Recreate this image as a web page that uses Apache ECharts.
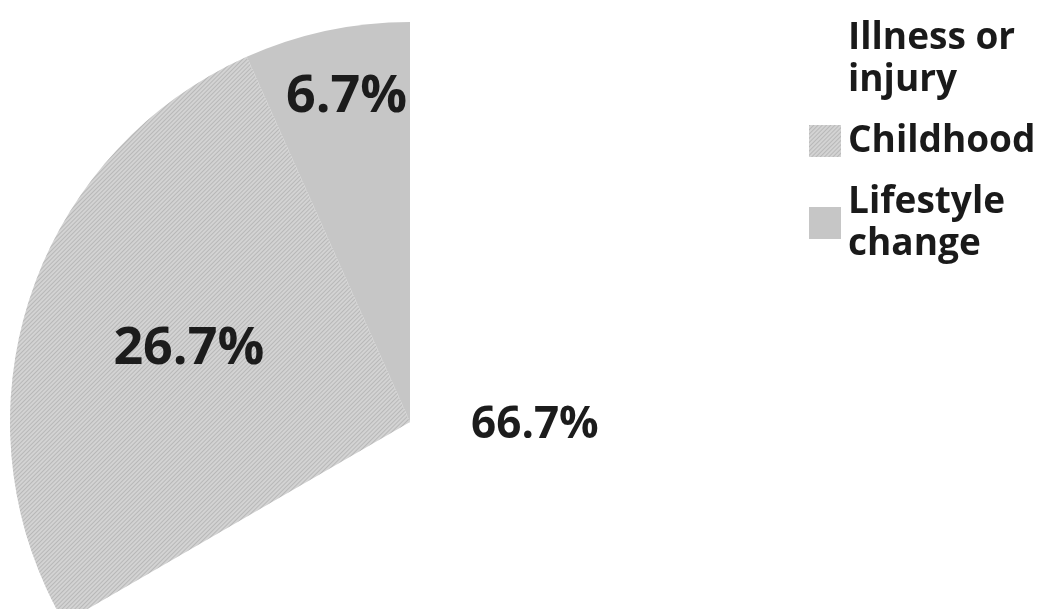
<!DOCTYPE html>
<html>
<head>
<meta charset="utf-8">
<script src="https://cdn.jsdelivr.net/npm/echarts@6/dist/echarts.min.js"></script>
<style>
  html, body { margin: 0; padding: 0; background: #fff; }
  #main { width: 1058px; height: 609px; }
</style>
</head>
<body>
<div id="main"></div>
<script>
  // categories and shares (%)
  const categories = ['Illness or injury', 'Childhood', 'Lifestyle change'];
  const legendNames = ['Illness or\ninjury', 'Childhood', 'Lifestyle\nchange'];
  const shares = [66.7, 26.7, 6.7];
  const sliceColors = ['#ffffff', '#d3d3d3', '#c6c6c6'];

  // label nudges from the default inside position (px) and label sizes
  const labelShift = [[-51, -98], [-28, -10], [-21, -126]];
  const labelSizes = [44, 52, 52];

  let myChart = echarts.init(document.getElementById('main'));

  let data = categories.map(function (name, i) {
    let item = {
      name: name,
      value: shares[i],
      itemStyle: { color: sliceColors[i] },
      label: { fontSize: labelSizes[i] }
    };
    if (i === 1) {
      // fine diagonal hatching like the original
      item.itemStyle.decal = {
        symbol: 'rect',
        color: 'rgba(150,150,150,0.45)',
        dashArrayX: [1, 0],
        dashArrayY: [1, 2],
        rotation: -Math.PI / 4
      };
    }
    return item;
  });

  let option = {
    backgroundColor: '#fff',
    animation: false,
    legend: {
      orient: 'vertical',
      left: 804,
      top: 12,
      itemWidth: 32,
      itemHeight: 32,
      itemGap: 19,
      icon: 'rect',
      data: categories,
      formatter: function (name) {
        return legendNames[categories.indexOf(name)];
      },
      textStyle: {
        fontFamily: 'Open Sans',
        fontWeight: 'bold',
        fontSize: 37,
        lineHeight: 42,
        color: '#1a1a1a',
        padding: [0, 0, 0, 2]
      }
    },
    series: [{
      type: 'pie',
      center: [410, 422],
      radius: 400,
      startAngle: 90,
      clockwise: true,
      data: data,
      itemStyle: { borderWidth: 0 },
      emphasis: { disabled: true },
      label: {
        show: true,
        position: 'inside',
        formatter: '{c}%',
        fontFamily: 'Open Sans',
        fontWeight: 'bold',
        fontSize: 44,
        color: '#1c1c1c'
      },
      labelLine: { show: false },
      labelLayout: function (params) {
        let s = labelShift[params.dataIndex];
        return { dx: s[0], dy: s[1] };
      }
    }]
  };
  myChart.setOption(option);
</script>
</body>
</html>
